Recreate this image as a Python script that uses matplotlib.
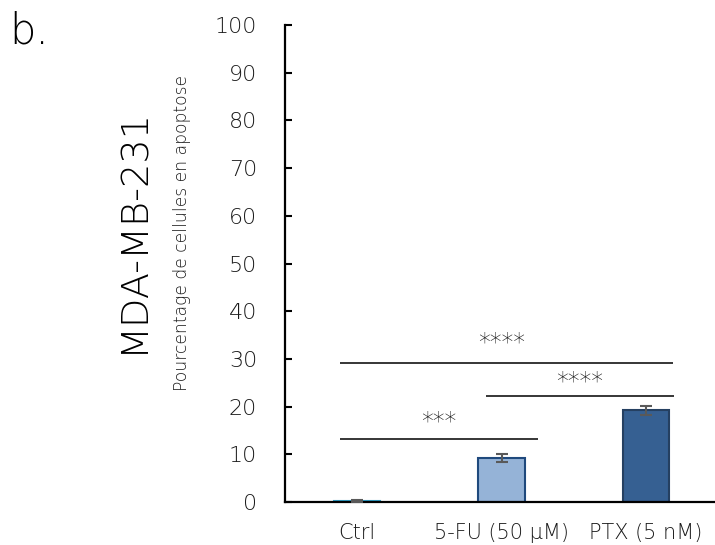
import matplotlib
matplotlib.use("Agg")
import matplotlib.pyplot as plt

categories = ["Ctrl", "5-FU (50 µM)", "PTX (5 nM)"]
values = [0.3, 9.2, 19.2]
errors = [0.2, 0.9, 0.9]
fill_colors = ["#4BACC6", "#95B3D7", "#366092"]
edge_colors = ["#31A0C8", "#1F497D", "#254061"]

yticks = list(range(0, 101, 10))

# significance brackets
sig_x0 = [-0.117, 0.89, -0.117]
sig_x1 = [2.186, 2.193, 1.255]
sig_y = [29.1, 22.2, 13.2]
sig_labels = ["****", "****", "***"]
sig_label_x = [1.0, 1.54, 0.566]
sig_label_y = [33.5, 25.2, 16.8]

plt.rcParams['font.family'] = ['DejaVu Sans']
fig = plt.figure(figsize=(7.15, 5.45), dpi=100)
ax = fig.add_axes([285/715, 43/545, 430/715, 477/545])

x = list(range(len(categories)))
ax.bar(x, values, width=0.32, color=fill_colors, edgecolor=edge_colors, linewidth=1.5, zorder=2)
ax.errorbar(x, values, yerr=errors, fmt='none', ecolor='#595959', elinewidth=1.5,
            capsize=4.3, capthick=1.5, zorder=3)

for x0, x1, y, lab, lx, ly in zip(sig_x0, sig_x1, sig_y, sig_labels, sig_label_x, sig_label_y):
    ax.plot([x0, x1], [y, y], color='black', lw=1.1, solid_capstyle='butt', zorder=1)
    ax.text(lx, ly, lab, ha='center', va='center', fontsize=17, color='#111111',
            fontweight='light', transform=ax.transData)

ax.set_xlim(-0.497, 2.476)
ax.set_ylim(0, 100)
ax.set_yticks(yticks)
ax.set_yticklabels([str(t) for t in yticks], fontsize=16, color='#1a1a1a', fontweight='light')
ax.set_xticks(x)
ax.set_xticklabels(categories, fontsize=15, color='#1a1a1a', fontweight='light')
ax.tick_params(axis='y', direction='in', length=5, width=1.5, pad=20)
ax.tick_params(axis='x', length=0, pad=15)
for s in ['top', 'right']:
    ax.spines[s].set_visible(False)
for s in ['left', 'bottom']:
    ax.spines[s].set_linewidth(1.6)
    ax.spines[s].set_color('black')

fig.text(133/715, 1 - 230/545, "MDA-MB-231", rotation=90, ha='center', va='center',
         fontsize=27.5, color='#000000', fontweight='light')
fig.text(182/715, 1 - 233/545, "Pourcentage de cellules en apoptose", rotation=90,
         ha='center', va='center', fontsize=12.3, color='#1a1a1a', fontweight='light')
fig.text(29/715, 1 - 31/545, "b.", ha='center', va='center', fontsize=30,
         color='#000000', fontweight='light')

fig.savefig("out.png", dpi=100)
